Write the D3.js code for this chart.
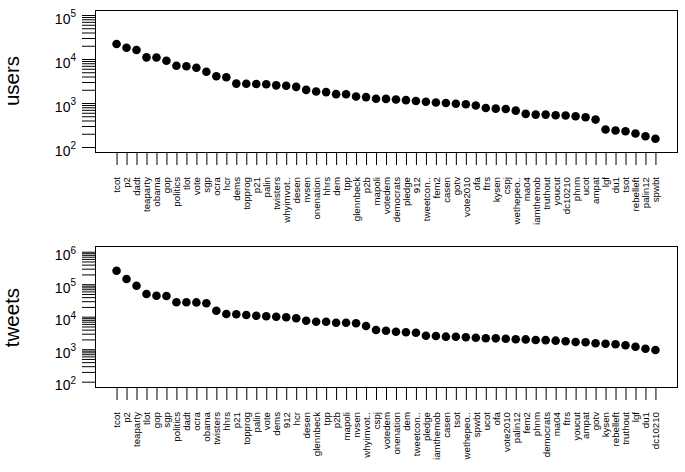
<!DOCTYPE html>
<html>
<head>
<meta charset="utf-8">
<script src="https://cdnjs.cloudflare.com/ajax/libs/d3/7.8.5/d3.min.js"></script>
<style>
  body { margin: 0; background: #fff; }
  text { font-family: "Liberation Sans", Arial, Helvetica, sans-serif; }
</style>
</head>
<body>
<svg id="chart"></svg>
<script>
var userTags = ["tcot", "p2", "dadt", "teaparty", "obama", "gop", "politics", "tlot", "vote", "sgp",
    "ocra", "hcr", "dems", "topprog", "p21", "palin", "twisters", "whyimvot..", "desen", "nvsen",
    "onenation", "hhrs", "dem", "tpp", "glennbeck", "p2b", "mapoli", "votedem", "democrats", "pledge",
    "912", "tweetcon..", "fem2", "casen", "gotv", "vote2010", "ofa", "ftrs", "kysen", "cspj",
    "wethepeo..", "ma04", "iamthemob", "truthout", "youcut", "dc10210", "phnm", "ucot", "ampat", "lgf",
    "du1", "tsot", "rebelleft", "palin12", "spwbt"];
var userCounts = [21900, 18000, 16000, 10900, 10800, 9150, 7050, 6850, 6350, 5150,
    4050, 3850, 2760, 2730, 2710, 2660, 2520, 2460, 2330, 1990,
    1830, 1770, 1590, 1580, 1410, 1360, 1250, 1240, 1200, 1160,
    1110, 1070, 1030, 1000, 965, 935, 880, 770, 745, 730,
    670, 565, 545, 545, 527, 518, 499, 475, 420, 250,
    237, 228, 203, 176, 154];

var tweetTags = ["tcot", "p2", "teaparty", "tlot", "gop", "sgp", "politics", "dadt", "ocra", "obama",
    "twisters", "hhrs", "p21", "topprog", "palin", "vote", "dems", "912", "hcr", "desen",
    "glennbeck", "tpp", "p2b", "mapoli", "nvsen", "whyimvot..", "cspj", "votedem", "onenation", "dem",
    "tweetcon..", "pledge", "iamthemob", "casen", "tsot", "wethepeo..", "spwbt", "ucot", "ofa", "vote2010",
    "palin12", "fem2", "phnm", "democrats", "ma04", "ftrs", "youcut", "ampat", "gotv", "kysen",
    "rebelleft", "truthout", "lgf", "du1", "dc10210"];
var tweetCounts = [260000, 144000, 90000, 49900, 44300, 43300, 27700, 27700, 27500, 25800,
    15300, 12100, 11900, 11300, 10700, 10300, 10000, 9600, 8940, 7530,
    7020, 7000, 6530, 6500, 6260, 5180, 3900, 3710, 3450, 3310,
    3220, 2600, 2550, 2430, 2420, 2320, 2260, 2165, 2160, 2100,
    2020, 2000, 1920, 1900, 1830, 1750, 1670, 1630, 1520, 1475,
    1415, 1320, 1195, 1035, 945];

var userExps = [2, 3, 4, 5];
var tweetExps = [2, 3, 4, 5, 6];

var svgWidth = 685, svgHeight = 472;

var svg = d3.select("#chart")
    .attr("width", svgWidth)
    .attr("height", svgHeight);

function drawPanel(tags, counts, exps, box, yRange, title, titleY) {
    var x = d3.scalePoint()
        .domain(tags)
        .range([box.left, box.right])
        .padding(2.16);

    var y = d3.scaleLog()
        .domain([Math.pow(10, exps[0]), Math.pow(10, exps[exps.length - 1])])
        .range(yRange);

    // y ticks, majors and minors alike
    var yAxis = svg.append("g")
        .attr("transform", "translate(" + box.left + ",0)")
        .call(d3.axisLeft(y).tickValues(y.ticks()).tickSize(13).tickFormat(""));
    yAxis.select(".domain").remove();
    yAxis.selectAll("line").attr("stroke", "#000");

    var labels = svg.append("g")
        .selectAll("text")
        .data(exps)
        .enter()
        .append("text")
        .attr("x", box.left - 19)
        .attr("y", function(d) { return y(Math.pow(10, d)) + 8.5; })
        .attr("text-anchor", "end")
        .attr("font-size", 14)
        .attr("fill", "#000");
    labels.append("tspan").text("10");
    labels.append("tspan")
        .attr("font-size", 10)
        .attr("dy", "-0.65em")
        .text(function(d) { return d; });

    // x ticks with rotated tag names
    var xAxis = svg.append("g")
        .attr("transform", "translate(0," + box.bottom + ")")
        .call(d3.axisBottom(x).tickSize(13))
        .attr("font-family", "'Liberation Sans', Arial, sans-serif")
        .attr("font-size", 9.7);
    xAxis.select(".domain").remove();
    xAxis.selectAll("line").attr("stroke", "#000");
    xAxis.selectAll("text")
        .attr("transform", "rotate(-90)")
        .attr("text-anchor", "end")
        .attr("x", -25)
        .attr("y", 0)
        .attr("dy", "0.35em")
        .attr("fill", "#000");

    svg.append("rect")
        .attr("x", box.left + 0.5)
        .attr("y", box.top + 0.5)
        .attr("width", box.right - box.left)
        .attr("height", box.bottom - box.top)
        .attr("fill", "none")
        .attr("stroke", "#000");

    svg.append("g")
        .selectAll("circle")
        .data(counts)
        .enter()
        .append("circle")
        .attr("cx", function(d, i) { return x(tags[i]); })
        .attr("cy", function(d) { return y(d); })
        .attr("r", 4.3)
        .attr("fill", "#000");

    svg.append("text")
        .attr("transform", "translate(18.5," + titleY + ") rotate(-90)")
        .attr("text-anchor", "middle")
        .attr("font-size", 20.5)
        .attr("fill", "#000")
        .text(title);
}

drawPanel(userTags, userCounts, userExps,
    { left: 95, right: 677, top: 10, bottom: 152 }, [147, 15], "users", 81);

drawPanel(tweetTags, tweetCounts, tweetExps,
    { left: 95, right: 677, top: 246, bottom: 387 }, [381.7, 251.7], "tweets", 317.5);
</script>
</body>
</html>
